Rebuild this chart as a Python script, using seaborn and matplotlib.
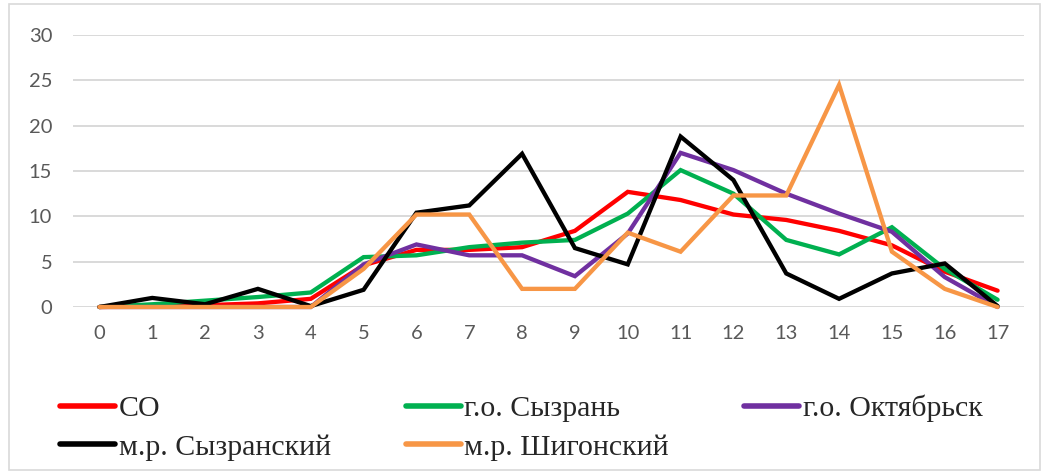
import numpy as np
import pandas as pd
import matplotlib
matplotlib.use('Agg')
import matplotlib.pyplot as plt
from matplotlib.patches import Rectangle
import seaborn as sns


# Data

x_vals = list(range(18))

so = [0, 0.1, 0.2, 0.4, 0.9, 4.6, 6.3, 6.3, 6.6, 8.4, 12.7, 11.8, 10.2, 9.6, 8.4, 6.8, 3.9, 1.8]
syzran = [0, 0.3, 0.7, 1.1, 1.6, 5.5, 5.7, 6.6, 7.1, 7.4, 10.3, 15.1, 12.5, 7.4, 5.8, 8.8, 4.2, 0.8]
oktyabrsk = [0, 0, 0, 0, 0, 4.7, 6.9, 5.7, 5.7, 3.4, 8.1, 17.0, 15.1, 12.5, 10.3, 8.3, 3.3, 0]
syzran_mr = [0, 1.0, 0.3, 2.0, 0.1, 1.9, 10.4, 11.2, 16.9, 6.5, 4.7, 18.8, 14.0, 3.7, 0.9, 3.7, 4.8, 0.1]
shigony = [0, 0, 0, 0, 0, 4.2, 10.2, 10.2, 2.0, 2.0, 8.2, 6.1, 12.3, 12.3, 24.5, 6.1, 2.0, 0]

series_names = ['СО', 'г.о. Сызрань', 'г.о. Октябрьск', 'м.р. Сызранский', 'м.р. Шигонский']
series_values = [so, syzran, oktyabrsk, syzran_mr, shigony]
colors = ['#FF0000', '#00B050', '#7030A0', '#000000', '#F79646']


# Long format for seaborn

df = pd.DataFrame({
    'x': x_vals * len(series_names),
    'value': sum(series_values, []),
    'series': np.repeat(series_names, len(x_vals)),
})


# Plot

sns.set_style('white')
plt.rcParams['font.family'] = ['Lato', 'DejaVu Sans']

fig = plt.figure(figsize=(10.46, 4.74), dpi=100)
ax = fig.add_axes([73 / 1046, 1 - 307 / 474, (1024 - 73) / 1046, (307 - 35) / 474])

sns.lineplot(data=df, x='x', y='value', hue='series', hue_order=series_names,
             palette=colors, linewidth=3.1, ax=ax, legend=False)
for line in ax.lines:
    line.set_clip_on(False)
    line.set_solid_joinstyle('miter')

ax.set_xlim(-0.5, 17.5)
ax.set_ylim(0, 30)
ax.set_xticks(x_vals)
ax.set_yticks(range(0, 31, 5))
ax.set_xlabel('')
ax.set_ylabel('')
ax.grid(axis='y', color='#D9D9D9', linewidth=1.4)
ax.set_axisbelow(True)
for s in ax.spines.values():
    s.set_visible(False)
ax.tick_params(axis='both', length=0, labelsize=14.5, labelcolor='#595959')
ax.tick_params(axis='y', pad=15)
ax.tick_params(axis='x', pad=13)

# Chart border
fig.patches.append(Rectangle((9 / 1046, 4 / 474), 1031 / 1046, 466 / 474,
                             transform=fig.transFigure, fill=False,
                             edgecolor='#D9D9D9', linewidth=1.2))

# Legend in row-major order like the original
order = [0, 3, 1, 4, 2]
handles = [plt.Line2D([], [], color=colors[i], linewidth=4) for i in order]
labels = [series_names[i] for i in order]
fig.legend(handles, labels, ncol=3, loc='upper left',
           bbox_to_anchor=(60 / 1046, 1 - 395 / 474),
           frameon=False, prop={'family': 'Liberation Serif', 'size': 21.5},
           handlelength=1.85, handletextpad=0.12, columnspacing=2.5,
           labelspacing=0.38, borderaxespad=0, borderpad=0)

plt.savefig('out.png', dpi=100)
